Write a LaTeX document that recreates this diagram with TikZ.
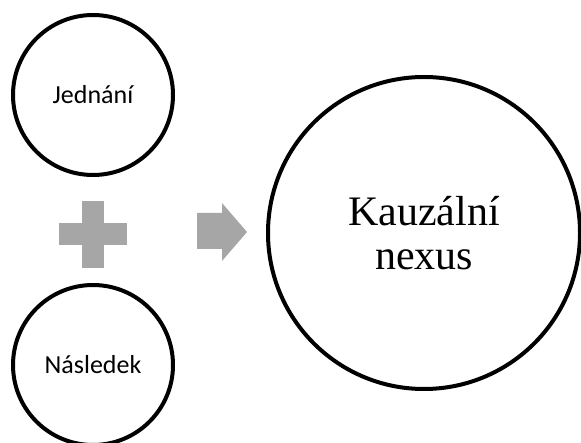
\documentclass[tikz,border=0pt]{standalone}
\usepackage{fontspec}
\setmainfont{Liberation Serif}
\newfontfamily\calib{Carlito}
\definecolor{shapegray}{HTML}{A6A6A6}
\begin{document}
\begin{tikzpicture}[x=1pt,y=-1pt,
  ring/.style={circle,draw=black,line width=4pt,fill=white,inner sep=0pt},
  smallring/.style={ring,minimum size=160pt,font=\calib\fontsize{26}{30}\selectfont},
  bigring/.style={ring,minimum size=312pt,align=center,font=\fontsize{42}{44}\selectfont},
  glyph/.style={fill=shapegray,draw=none}]
\useasboundingbox (0,0) rectangle (581,443);
\node[smallring] (act) at (93,95) {Jednání};
\node[smallring] (res) at (93,365) {Následek};
\node[bigring] (nexus) at (424,233) {Kauzální\\nexus};
\fill[glyph] (82,201) rectangle (104,268);
\fill[glyph] (59,223) rectangle (127,245);
\fill[glyph] (197,213) -- (222,213) -- (222,203) -- (247,232) -- (222,261) -- (222,249) -- (197,249) -- cycle;
\end{tikzpicture}
\end{document}
